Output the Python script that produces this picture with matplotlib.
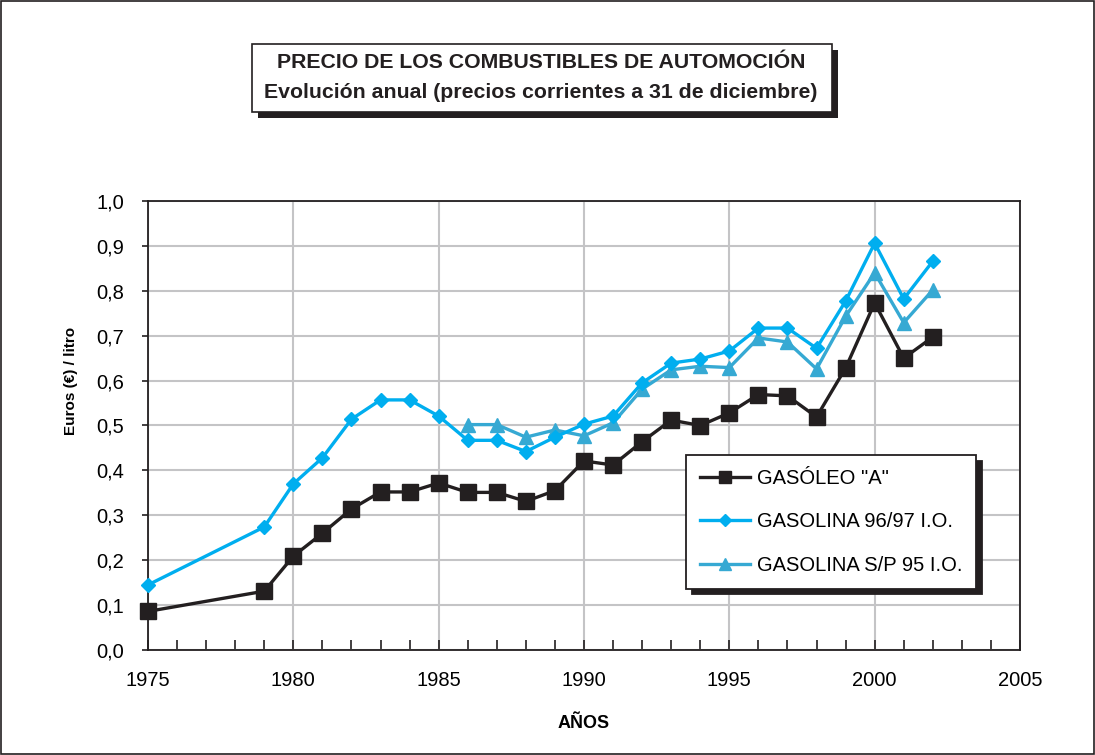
import matplotlib
matplotlib.use("Agg")
import matplotlib.pyplot as plt
from matplotlib.patches import Rectangle
from matplotlib.ticker import MultipleLocator, FuncFormatter

plt.rcParams['font.family'] = ['Liberation Sans', 'DejaVu Sans']

# ==========================
# Data (euros / litro)
# ==========================
years_gasoleo = [1975, 1979, 1980, 1981, 1982, 1983, 1984, 1985, 1986, 1987, 1988, 1989,
                 1990, 1991, 1992, 1993, 1994, 1995, 1996, 1997, 1998, 1999, 2000, 2001, 2002]
gasoleo = [0.086, 0.131, 0.209, 0.260, 0.314, 0.352, 0.352, 0.372, 0.351, 0.351, 0.331, 0.355,
           0.421, 0.412, 0.464, 0.512, 0.500, 0.528, 0.569, 0.566, 0.519, 0.628, 0.773, 0.650, 0.697]

years_96 = years_gasoleo
gasolina_96 = [0.145, 0.274, 0.370, 0.428, 0.514, 0.557, 0.557, 0.521, 0.467, 0.467, 0.442, 0.474,
               0.503, 0.521, 0.595, 0.639, 0.648, 0.666, 0.717, 0.717, 0.672, 0.777, 0.906, 0.782, 0.866]

years_95 = [1986, 1987, 1988, 1989, 1990, 1991, 1992, 1993, 1994, 1995, 1996, 1997,
            1998, 1999, 2000, 2001, 2002]
gasolina_95 = [0.502, 0.502, 0.474, 0.490, 0.477, 0.506, 0.581, 0.624, 0.632, 0.629, 0.695, 0.686,
               0.626, 0.743, 0.840, 0.729, 0.802]

labels = ['GASÓLEO "A"', 'GASOLINA 96/97 I.O.', 'GASOLINA S/P 95 I.O.']

# ==========================
# Figure
# ==========================
W, H = 1095, 755
fig = plt.figure(figsize=(W / 100, H / 100), dpi=100)

def fx(px):
    return px / W

def fy(py):
    return 1 - py / H

# outer frame
fig.patches.append(Rectangle((0.001, 0.001), 0.998, 0.998, transform=fig.transFigure,
                             fill=False, edgecolor='#231f20', linewidth=1.2))

ax = fig.add_axes([fx(148), fy(650), fx(1020) - fx(148), fy(201) - fy(650)])

ax.plot(years_gasoleo, gasoleo, color='#231f20', lw=2.4, marker='s', ms=11,
        label=labels[0], zorder=3, clip_on=False)
ax.plot(years_96, gasolina_96, color='#00aeef', lw=2.4, marker='D', ms=7.5,
        label=labels[1], zorder=4, clip_on=False)
ax.plot(years_95, gasolina_95, color='#36a9d3', lw=2.4, marker='^', ms=10,
        label=labels[2], zorder=3, clip_on=False)

ax.set_xlim(1975, 2005)
ax.set_ylim(0, 1.0)
ax.xaxis.set_major_locator(MultipleLocator(5))
ax.xaxis.set_minor_locator(MultipleLocator(1))
ax.yaxis.set_major_locator(MultipleLocator(0.1))
ax.yaxis.set_major_formatter(FuncFormatter(lambda v, p: f"{v:.1f}".replace('.', ',')))

ax.grid(True, which='major', color='#c4c4c6', lw=1.5)
ax.set_axisbelow(True)
for s in ax.spines.values():
    s.set_color('#231f20')
    s.set_linewidth(1.3)

ax.tick_params(axis='x', which='both', direction='in', length=7, width=1.2,
               color='#231f20', labelsize=14.5, pad=15)
ax.tick_params(axis='y', which='major', direction='out', length=4, width=1.2,
               color='#231f20', labelsize=14.5, pad=13)

ax.set_ylabel('Euros (€) / litro', fontsize=11, fontweight='bold')
ax.yaxis.set_label_coords(-0.08, 0.60)
ax.set_xlabel('AÑOS', fontsize=13, fontweight='bold')
ax.xaxis.set_label_coords(0.5, -0.145)

leg = ax.legend(loc='upper left', bbox_to_anchor=(0.617, 0.434), borderaxespad=0,
                fontsize=14.5, frameon=True, fancybox=False, edgecolor='#231f20',
                framealpha=1, handlelength=2.5, labelspacing=1.2, markerscale=0.85,
                borderpad=0.7, handletextpad=0.3,
                shadow={'color': '#231f20', 'alpha': 1, 'ox': 4, 'oy': -4})
leg.get_frame().set_linewidth(1.3)

# title box with shadow
x0, y0, x1, y1 = 252, 44, 832, 112
fig.patches.append(Rectangle((fx(x0 + 6), fy(y1 + 6)), fx(x1) - fx(x0), fy(y0) - fy(y1),
                             transform=fig.transFigure, facecolor='#231f20',
                             edgecolor='none', zorder=1))
fig.patches.append(Rectangle((fx(x0), fy(y1)), fx(x1) - fx(x0), fy(y0) - fy(y1),
                             transform=fig.transFigure, facecolor='white',
                             edgecolor='#231f20', linewidth=1.2, zorder=2))
fig.text(fx(541), fy(62), 'PRECIO DE LOS COMBUSTIBLES DE AUTOMOCIÓN', ha='center',
         va='center', fontsize=15.3, fontweight='bold', color='#231f20', zorder=3)
fig.text(fx(541), fy(93), 'Evolución anual (precios corrientes a 31 de diciembre)',
         ha='center', va='center', fontsize=15.3, fontweight='bold', color='#231f20', zorder=3)

fig.savefig('out.png', dpi=100)
